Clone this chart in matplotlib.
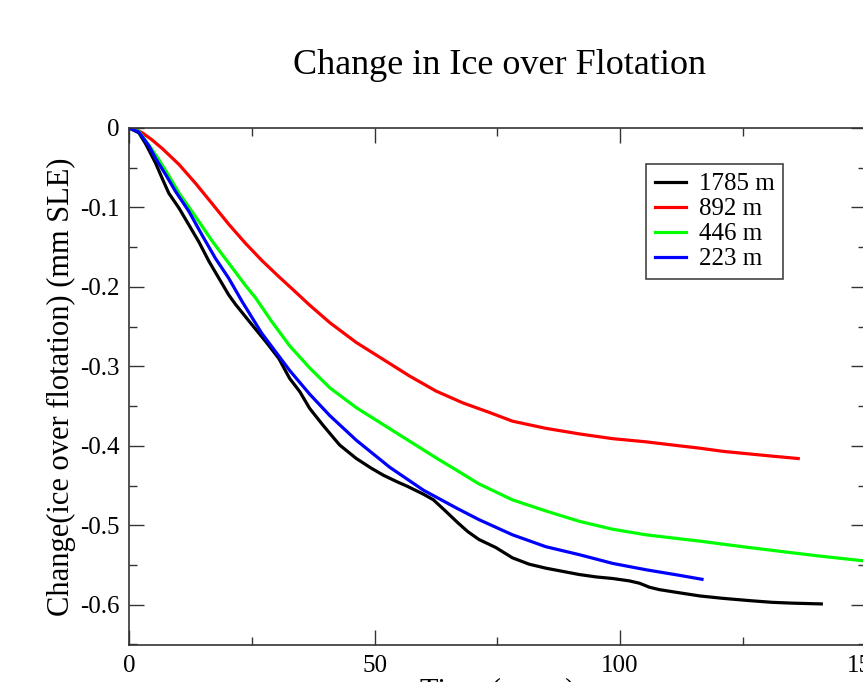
import matplotlib
matplotlib.use("Agg")
import matplotlib.pyplot as plt
from matplotlib.ticker import MultipleLocator, FuncFormatter

# time (years) vs change (mm SLE)
t_1785 = [0, 2, 3.4, 5.4, 6.8, 8.1, 10.2, 12.2, 14.2, 16.3, 18.3, 20.3, 21.7, 24.7,
          28, 30.5, 32.7, 34.8, 36.8, 39.5, 42.9, 46.3, 49.3, 51.8, 54.5, 56.7, 60,
          62, 64.1, 67, 69, 71.3, 74.7, 78.1, 81.5, 84.9, 88.3, 91.7, 95.1, 98.5,
          101.9, 104, 106, 108, 112.1, 116.3, 121, 126.7, 131, 135, 141]
v_1785 = [0, -0.006, -0.02, -0.044, -0.064, -0.082, -0.101, -0.122, -0.143, -0.168,
          -0.189, -0.21, -0.222, -0.245, -0.27, -0.29, -0.315, -0.332, -0.353, -0.374,
          -0.399, -0.416, -0.428, -0.437, -0.445, -0.451, -0.461, -0.468, -0.480,
          -0.497, -0.508, -0.518, -0.528, -0.541, -0.549, -0.554, -0.558, -0.562,
          -0.565, -0.567, -0.570, -0.573, -0.578, -0.581, -0.585, -0.589, -0.592,
          -0.595, -0.597, -0.598, -0.599]

t_892 = [0, 1, 2.7, 4.5, 6.8, 10.2, 13.6, 16.9, 20.3, 23.7, 27.1, 30.5, 33.5, 36.8,
         40.9, 46.3, 51.7, 57.1, 62.5, 68, 73.4, 78.1, 84.9, 91.7, 98.5, 105.3,
         112.1, 116.3, 121, 126, 131, 136.3]
v_892 = [0, -0.001, -0.006, -0.014, -0.026, -0.046, -0.070, -0.095, -0.121, -0.145,
         -0.167, -0.187, -0.204, -0.223, -0.245, -0.270, -0.291, -0.312, -0.331,
         -0.346, -0.358, -0.369, -0.378, -0.385, -0.391, -0.395, -0.400, -0.403,
         -0.407, -0.410, -0.413, -0.416]

t_446 = [0, 2, 4.1, 6.1, 8.1, 10.2, 13.6, 16.9, 20.3, 23.7, 25.8, 29, 32.7, 36.8,
         40.9, 46.3, 51.7, 57.1, 62.5, 66, 71.3, 78.1, 84.9, 91.7, 98.5, 105.3,
         112.1, 116.3, 125, 132.9, 141, 150]
v_446 = [0, -0.004, -0.022, -0.04, -0.06, -0.082, -0.112, -0.142, -0.170, -0.198,
         -0.214, -0.243, -0.274, -0.302, -0.327, -0.352, -0.373, -0.394, -0.415,
         -0.428, -0.448, -0.468, -0.482, -0.495, -0.505, -0.512, -0.517, -0.520,
         -0.527, -0.533, -0.539, -0.545]

t_223 = [0, 2, 4.1, 5.4, 7.5, 9.5, 12.2, 14.9, 17.6, 20.3, 23, 27, 32.7, 36.8, 40.9,
         46.3, 53.1, 60, 66.9, 71.3, 78.1, 84.9, 91.7, 98.5, 105.3, 112.1, 116.7]
v_223 = [0, -0.005, -0.023, -0.038, -0.059, -0.08, -0.105, -0.135, -0.164, -0.189,
         -0.218, -0.258, -0.305, -0.335, -0.362, -0.393, -0.427, -0.456, -0.479,
         -0.493, -0.512, -0.527, -0.537, -0.548, -0.556, -0.563, -0.568]

series = [
    ("1785 m", t_1785, v_1785, "#000000"),
    ("892 m", t_892, v_892, "#ff0000"),
    ("446 m", t_446, v_446, "#00ff00"),
    ("223 m", t_223, v_223, "#0000ff"),
]

plt.rcParams["font.family"] = ["Liberation Serif", "DejaVu Serif"]
plt.rcParams["axes.unicode_minus"] = False

W, H = 863, 682
fig = plt.figure(figsize=(W / 100, H / 100), dpi=100)
# the reference is cropped: right spine sits just past the image edge
left, right, top, bottom = 129, 865.5, 128, 645
ax = fig.add_axes([left / W, 1 - bottom / H, (right - left) / W, (bottom - top) / H])

for name, t, v, c in series:
    ax.plot(t, v, color=c, lw=2.3, label=name, solid_joinstyle="round")

ax.set_xlim(0, 150)
ax.set_ylim(-0.6507, 0)
ax.xaxis.set_major_locator(MultipleLocator(50))
ax.xaxis.set_minor_locator(MultipleLocator(25))
ax.yaxis.set_major_locator(MultipleLocator(0.1))
ax.yaxis.set_minor_locator(MultipleLocator(0.05))
ax.yaxis.set_major_formatter(FuncFormatter(lambda y, p: "0" if abs(y) < 1e-9 else "%.1f" % y))
ax.tick_params(which="both", direction="in", top=True, right=True,
               colors="#333333", labelcolor="black", labelsize=18, width=1)
ax.tick_params(which="major", length=11, pad=7)
ax.tick_params(which="minor", length=6)
for s in ax.spines.values():
    s.set_linewidth(1.2)
    s.set_color("#333333")

ax.set_ylabel("Change(ice over flotation) (mm SLE)", fontsize=22)
ax.yaxis.set_label_coords(-0.072, 0.5)
ax.set_xlabel("Time (years)", fontsize=22)
ax.xaxis.set_label_coords(0.5, -0.064)

fig.text(499 / W, 1 - 66 / H, "Change in Ice over Flotation", fontsize=26,
         ha="center", va="center")

leg = ax.legend(loc="upper left", bbox_to_anchor=(0.702, 0.930), fontsize=18,
                frameon=True, fancybox=False, framealpha=1, edgecolor="#444444",
                borderpad=0.35, labelspacing=0.1, handlelength=1.25,
                handletextpad=0.5, borderaxespad=0)
leg.get_frame().set_linewidth(1.2)

fig.savefig("out.png", dpi=100)
